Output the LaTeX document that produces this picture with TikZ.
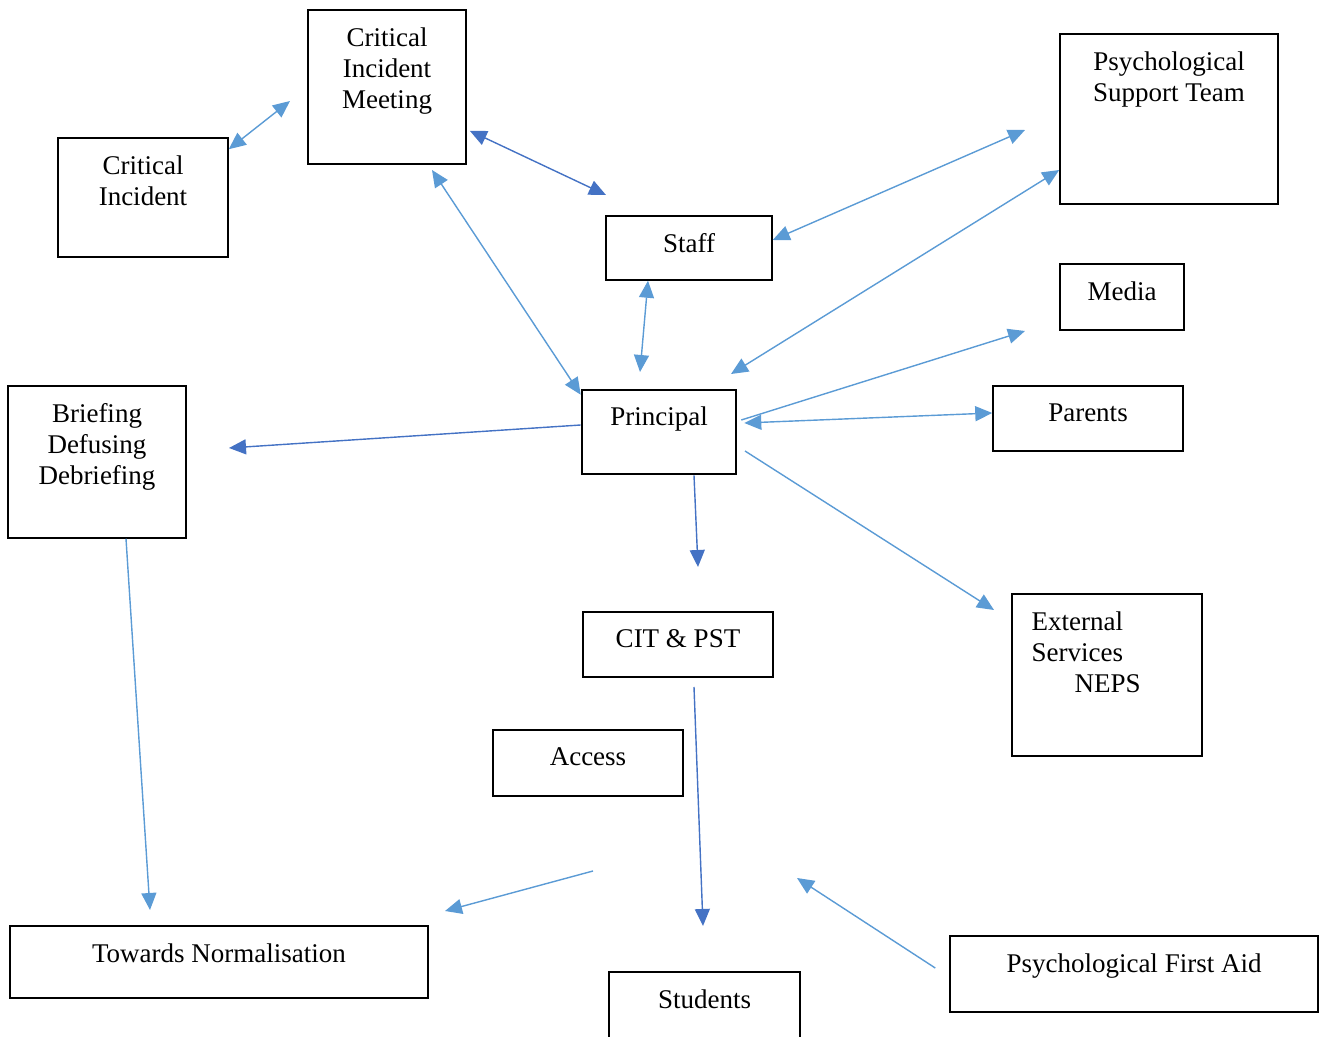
\documentclass[tikz,border=0pt]{standalone}
\usepackage{fontspec}
\setmainfont{Liberation Serif}
\usetikzlibrary{arrows.meta,fit}
\definecolor{lite}{HTML}{5B9BD5}
\definecolor{dark}{HTML}{4472C4}
\tikzset{
    box/.style={draw=black, line width=0.75pt, inner sep=0pt},
    lbl/.style={anchor=north, yshift=-9pt, align=center, inner sep=0pt, font=\fontsize{13.5}{15.5}\selectfont},
    con/.style={line width=0.7pt, >={Triangle[length=8.5pt,width=7.5pt]}},
    litecon/.style={con, draw=lite, fill=lite},
    darkcon/.style={con, draw=dark, fill=dark}
}
\begin{document}
\begin{tikzpicture}[x=0.5pt, y=-0.5pt]
            \useasboundingbox (0,0) rectangle (1319,1037);
            % boxes
            \node[box, fit={(58,138) (228,257)}] (ci) {};
            \node[box, fit={(308,10) (466,164)}] (cim) {};
            \node[box, fit={(1060,34) (1278,204)}] (pst) {};
            \node[box, fit={(606,216) (772,280)}] (staff) {};
            \node[box, fit={(1060,264) (1184,330)}] (media) {};
            \node[box, line width=1.3pt, fit={(582,390) (736,474)}] (pri) {};
            \node[box, fit={(993,386) (1183,451)}] (par) {};
            \node[box, fit={(8,386) (186,538)}] (brief) {};
            \node[box, fit={(583,612) (773,677)}] (cit) {};
            \node[box, fit={(1012,594) (1202,756)}] (ext) {};
            \node[box, fit={(493,730) (683,796)}] (acc) {};
            \node[box, fit={(10,926) (428,998)}] (norm) {};
            \node[box, fit={(609,972) (800,1060)}] (stud) {};
            \node[box, fit={(950,936) (1318,1012)}] (pfa) {};

            % texts
            \node[lbl] (ci-t) at (ci.north) {Critical\\Incident};
            \node[lbl] (cim-t) at (cim.north) {Critical\\Incident\\Meeting};
            \node[lbl] (pst-t) at (pst.north) {Psychological\\Support Team};
            \node[lbl] (staff-t) at (staff.north) {Staff};
            \node[lbl] (media-t) at (media.north) {Media};
            \node[lbl] (pri-t) at (pri.north) {Principal};
            \node[lbl] (par-t) at (par.north) {Parents};
            \node[lbl] (brief-t) at (brief.north) {Briefing\\Defusing\\Debriefing};
            \node[lbl] (cit-t) at (cit.north) {CIT \& PST};
            \node[lbl, anchor=north west, xshift=10pt, align=left] (ext-t) at (ext.north west) {External\\Services\\\hspace*{21.5pt}NEPS};
            \node[lbl] (acc-t) at (acc.north) {Access};
            \node[lbl] (norm-t) at (norm.north) {Towards Normalisation};
            \node[lbl] (stud-t) at (stud.north) {Students};
            \node[lbl] (pfa-t) at (pfa.north) {Psychological First Aid};

            % free ends
            \coordinate (ci-up) at (290,101);
            \coordinate (staff-up) at (606,195);
            \coordinate (cim-dn) at (432,170);
            \coordinate (pri-up) at (640,372);
            \coordinate (pst-l) at (1025,130);
            \coordinate (pri-ur) at (731,374);
            \coordinate (media-l) at (1025,331);
            \coordinate (brief-r) at (229,448);
            \coordinate (cit-up) at (698,567);
            \coordinate (pri-lr) at (745,451);
            \coordinate (ext-l) at (994,610);
            \coordinate (norm-up) at (150,910);
            \coordinate (cit-dn) at (694,687);
            \coordinate (stud-up) at (703,926);
            \coordinate (acc-dn) at (593,871);
            \coordinate (norm-r) at (445,911);
            \coordinate (stud-r) at (797,878);

            % connectors
            \draw[litecon, <->] ([yshift=-6pt]ci.north east) -- (ci-up);
            \draw[darkcon, <->] ([xshift=1.5pt, yshift=17pt]cim.south east) -- (staff-up);
            \draw[litecon, <->] (cim-dn) -- ([yshift=-3pt]pri.north west);
            \draw[litecon, <->] ([xshift=-20.5pt]staff.south) -- (pri-up);
            \draw[litecon, <->] ([yshift=4pt]staff.east) -- (pst-l);
            \draw[litecon, <->] (pri-ur) -- ([yshift=-25.5pt]pst.west);
            \draw[litecon, ->] ([xshift=2pt, yshift=6pt]pri.east) -- (media-l);
            \draw[litecon, <->] ([xshift=3.5pt, yshift=4.5pt]pri.east) -- ([yshift=2.75pt]par.west);
            \draw[darkcon, ->] ([yshift=3.5pt]pri.west) -- (brief-r);
            \draw[darkcon, ->] ([xshift=17.5pt]pri.south) -- (cit-up);
            \draw[litecon, ->] (pri-lr) -- (ext-l);
            \draw[litecon, ->] ([xshift=14.5pt]brief.south) -- (norm-up);
            \draw[darkcon, ->] (cit-dn) -- (stud-up);
            \draw[litecon, ->] (acc-dn) -- (norm-r);
            \draw[litecon, ->] ([xshift=-7pt, yshift=3pt]pfa.west) -- (stud-r);
\end{tikzpicture}
\end{document}
